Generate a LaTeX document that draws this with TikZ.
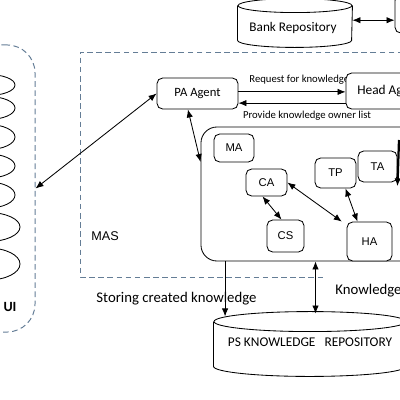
\documentclass[tikz,border=0pt]{standalone}
\usepackage{fontspec}
\setmainfont{Carlito}
\newfontfamily\agentfont{Liberation Sans}
\usetikzlibrary{arrows.meta,shapes.geometric}

\definecolor{dashgray}{RGB}{100,125,150}
\tikzset{
  agent/.style={draw, rounded corners=4pt, fill=white, inner sep=0pt},
  smallagent/.style={agent, font=\agentfont\fontsize{8}{10}\selectfont},
  link/.style={{Latex[length=2mm,width=1.6mm]}-{Latex[length=2mm,width=1.6mm]}},
  oneway/.style={-{Latex[length=2mm,width=1.6mm]}},
  boundary/.style={draw=dashgray, dash pattern=on 4pt off 2.5pt, line width=0.7pt},
}

\begin{document}
\begin{tikzpicture}[x=0.025cm, y=-0.025cm, line width=0.6pt]
  \useasboundingbox (0,0) rectangle (400,400);
  \clip (0,0) rectangle (400,400);

  % user interface
  \node[boundary, rounded corners=0.7cm, minimum width=2.375cm, minimum height=7.175cm] (ui) at (-12.5,188.5) {};
  \foreach \i/\yy/\w/\h in {1/85/54/21, 2/108/54/23, 3/137/54/25, 4/166/54/24, 5/195/54/26, 6/227/64/29, 7/264/64/32}
    \node[draw, ellipse, inner sep=0pt, minimum width=\w*0.025cm, minimum height=\h*0.025cm] (ui\i) at (-12,\yy) {};
  \node[font=\bfseries\fontsize{10}{12}\selectfont] (uilabel) at (10,307) {UI};

  % multi agent system
  \draw[boundary] (440,52) -- (80,52) -- (80,277) -- (323,277);
  \node[font=\agentfont\fontsize{9}{11}\selectfont] (mas) at (105,236) {MAS};

  \node[minimum width=2.85cm, minimum height=0.85cm, inner sep=0pt] (bank) at (295,23) {};
  \draw[fill=white] (bank.north west) -- (bank.south west) arc[start angle=180, end angle=360, x radius=1.425cm, y radius=0.175cm] -- (bank.north east);
  \draw (bank.north) ellipse [x radius=1.425cm, y radius=0.175cm];
  \node[font=\fontsize{9.4}{11}\selectfont] (banklabel) at (293,28) {Bank Repository};
  \node[agent, minimum width=1.25cm, minimum height=0.95cm] (topbox) at (420,14) {};
  \draw[link] ([yshift=0.07cm]bank.east) -- ([yshift=0.07cm]bank.east -| topbox.west);

  \node[agent, minimum width=2.025cm, minimum height=0.775cm, font=\fontsize{9}{11}\selectfont] (pa) at (197.5,93.5) {PA Agent};
  \node[anchor=west, inner sep=0pt, font=\fontsize{7.6}{9}\selectfont] (reqlabel) at (249,80) {Request for knowledge};
  \node[agent, minimum width=2.15cm, minimum height=0.9cm, font=\fontsize{9.5}{11}\selectfont] (head) at (389,91) {Head Agent};
  \draw[oneway] ([yshift=0.04cm]pa.east) -- ([yshift=0.04cm]pa.east -| head.west);
  \draw[oneway] ([yshift=-0.24cm]pa.east -| head.west) -- ([yshift=-0.24cm]pa.east);
  \node[font=\fontsize{7.6}{9}\selectfont] (provlabel) at (307,116) {Provide knowledge owner list};

  % agents
  \node[draw, rounded corners=0.4cm, minimum width=5.725cm, minimum height=3.35cm] (core) at (315.5,194) {};
  \node[smallagent, minimum width=1.0cm, minimum height=0.7cm] (ma) at (234,148) {MA};
  \node[smallagent, minimum width=1.025cm, minimum height=0.675cm] (ca) at (266.5,182.5) {CA};
  \node[smallagent, minimum width=0.925cm, minimum height=0.8cm] (cs) at (285.5,236) {CS};
  \node[smallagent, minimum width=1.025cm, minimum height=0.75cm] (tp) at (335.5,173) {TP};
  \node[smallagent, minimum width=0.975cm, minimum height=0.775cm] (ta) at (377.5,166.5) {TA};
  \node[smallagent, minimum width=1.125cm, minimum height=0.975cm] (ha) at (369.5,241.5) {HA};
  \coordinate (tain) at (399,140);

  \draw[link] ([xshift=-0.1cm]ca.south) -- ([xshift=-0.1cm]cs.north);
  \draw[link] (ca.east) -- ([xshift=-0.12cm]ha.north west);
  \draw[link] ([xshift=0.25cm]tp.south) -- ([xshift=-0.3cm]ha.north);
  \draw[oneway, line width=1.6pt] (tain) -- ([yshift=-0.1cm]ta.south east);

  \draw[link] ([xshift=-0.24cm]pa.south) -- ([yshift=0.8cm]core.west);
  \draw[link] (pa.west) -- (ui.east);

  % knowledge repository
  \node[minimum width=4.8cm, minimum height=1.1cm, inner sep=0pt] (ps) at (310,344) {};
  \draw[fill=white] (ps.north west) -- (ps.south west) arc[start angle=180, end angle=360, x radius=2.4cm, y radius=0.25cm] -- (ps.north east);
  \draw (ps.north) ellipse [x radius=2.4cm, y radius=0.25cm];
  \node[font=\fontsize{9.5}{11}\selectfont] (pslabel) at (310,342) {PS KNOWLEDGE\ \ \ REPOSITORY};
  \draw[oneway] ([xshift=-2.26cm]core.south) -- ++(0,55);
  \draw[link] (core.south) -- ([yshift=0.2cm]core.south |- ps.north);
  \node[anchor=west, inner sep=0pt, font=\fontsize{10.5}{12}\selectfont] (storelabel) at (96,299) {Storing created knowledge};
  \node[anchor=west, inner sep=0pt, font=\fontsize{10.5}{12}\selectfont] (knowlabel) at (335,291) {Knowledge};
\end{tikzpicture}
\end{document}
